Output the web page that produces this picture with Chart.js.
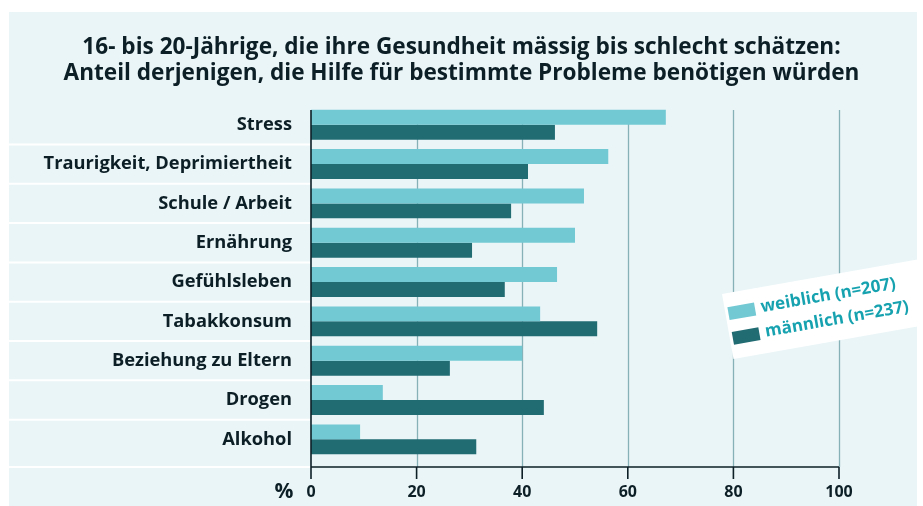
<!DOCTYPE html>
<html>
<head>
<meta charset="utf-8">
<script src="https://cdn.jsdelivr.net/npm/chart.js@4"></script>
<style>
  html, body { margin: 0; padding: 0; background: #ffffff; }
  #wrap { width: 923px; height: 506px; position: relative; }
</style>
</head>
<body>
<div id="wrap"><canvas id="chart" width="923" height="506"></canvas></div>
<script>
// --- data ---
const categories = [
    'Stress',
    'Traurigkeit, Deprimiertheit',
    'Schule / Arbeit',
    'Ernährung',
    'Gefühlsleben',
    'Tabakkonsum',
    'Beziehung zu Eltern',
    'Drogen',
    'Alkohol'
];
const weiblich = [67.2, 56.3, 51.7, 50.0, 46.6, 43.4, 40.0, 13.6, 9.3];
const maennlich = [46.2, 41.1, 37.9, 30.5, 36.7, 54.2, 26.3, 44.1, 31.3];
const seriesLabels = ['weiblich (n=207)', 'männlich (n=237)'];
const xTicks = [0, 20, 40, 60, 80, 100];
const titleLines = [
    '16- bis 20-Jährige, die ihre Gesundheit mässig bis schlecht schätzen:',
    'Anteil derjenigen, die Hilfe für bestimmte Probleme benötigen würden'
];

const colWeiblich = '#72c8d3';
const colMaennlich = '#216b73';
const panelBg = '#eaf5f7';
const gridCol = '#86b1b6';
const inkCol = '#0d1f26';
const legendText = '#17a2b0';
const FONT = '"Open Sans", Lato, sans-serif';

// background panel + white separators in the label column
const panelPlugin = {
    id: 'panel',
    beforeDraw(chart) {
        const { ctx, chartArea, scales } = chart;
        ctx.save();
        ctx.fillStyle = '#ffffff';
        ctx.fillRect(0, 0, chart.width, chart.height);
        ctx.fillStyle = panelBg;
        ctx.fillRect(9, 12, 908, chart.height - 12);
        const y = scales.y;
        ctx.strokeStyle = '#ffffff';
        ctx.lineWidth = 2;
        for (let i = 0; i < categories.length - 1; i++) {
            const yy = (y.getPixelForValue(i) + y.getPixelForValue(i + 1)) / 2;
            ctx.beginPath();
            ctx.moveTo(9, yy);
            ctx.lineTo(chartArea.left, yy);
            ctx.stroke();
        }
        ctx.beginPath();
        ctx.moveTo(9, chartArea.bottom + 8);
        ctx.lineTo(chartArea.left, chartArea.bottom + 8);
        ctx.stroke();
        ctx.restore();
    },
    beforeDatasetsDraw(chart) {
        const { ctx, chartArea, scales } = chart;
        ctx.save();
        ctx.strokeStyle = gridCol;
        ctx.lineWidth = 1.3;
        xTicks.forEach(v => {
            if (v === 0) return;
            const xx = Math.round(scales.x.getPixelForValue(v)) + 0.5;
            ctx.beginPath();
            ctx.moveTo(xx, chartArea.top + 5);
            ctx.lineTo(xx, chartArea.bottom + 8);
            ctx.stroke();
        });
        ctx.restore();
    },
    afterDatasetsDraw(chart) {
        const { ctx, chartArea, scales } = chart;
        const base = chartArea.bottom + 8;
        ctx.save();
        ctx.strokeStyle = inkCol;
        ctx.lineWidth = 1.6;
        ctx.beginPath();
        ctx.moveTo(scales.x.getPixelForValue(0), base);
        ctx.lineTo(scales.x.getPixelForValue(100), base);
        ctx.stroke();
        xTicks.forEach(v => {
            const xx = scales.x.getPixelForValue(v);
            ctx.beginPath();
            ctx.moveTo(xx, v === 0 ? chartArea.top + 5 : base);
            ctx.lineTo(xx, base + 12);
            ctx.stroke();
        });
        // unit
        ctx.fillStyle = inkCol;
        ctx.font = 'bold 21px ' + FONT;
        ctx.textAlign = 'center';
        ctx.textBaseline = 'middle';
        ctx.fillText('%', 284, 492);
        ctx.restore();
    },
    afterDraw(chart) {
        const { ctx } = chart;
        ctx.save();
        ctx.translate(722, 294);
        ctx.rotate(-10 * Math.PI / 180);
        ctx.fillStyle = '#ffffff';
        ctx.fillRect(0, 0, 260, 66);
        const cols = [colWeiblich, colMaennlich];
        ctx.font = 'bold 17px ' + FONT;
        ctx.textBaseline = 'middle';
        ctx.textAlign = 'left';
        seriesLabels.forEach((lab, i) => {
            const yy = 14 + i * 25;
            ctx.fillStyle = cols[i];
            ctx.fillRect(3, yy, 27, 13);
            ctx.fillStyle = legendText;
            ctx.fillText(lab, 36, yy + 6);
        });
        ctx.restore();
    }
};

new Chart(document.getElementById('chart'), {
    type: 'bar',
    data: {
        labels: categories,
        datasets: [
            { label: seriesLabels[0], data: weiblich, backgroundColor: colWeiblich },
            { label: seriesLabels[1], data: maennlich, backgroundColor: colMaennlich }
        ]
    },
    options: {
        indexAxis: 'y',
        responsive: false,
        animation: false,
        barPercentage: 1,
        categoryPercentage: 0.76,
        layout: { padding: 0 },
        plugins: {
            legend: { display: false },
            tooltip: { enabled: false },
            title: {
                display: true,
                text: titleLines,
                color: inkCol,
                font: { family: FONT, size: 22.6, weight: 'bold', lineHeight: 1.13 },
                padding: { top: 35, bottom: 19 }
            }
        },
        scales: {
            x: {
                min: 0,
                max: 100,
                afterBuildTicks: s => { s.ticks = xTicks.map(v => ({ value: v })); },
                grid: { display: false },
                border: { display: false },
                ticks: {
                    color: inkCol,
                    padding: 16,
                    font: { family: FONT, size: 16, weight: 'bold' }
                },
                afterFit: s => { s.height = 47; s.paddingRight = 84; }
            },
            y: {
                grid: { display: false },
                border: { display: false },
                ticks: {
                    color: inkCol,
                    padding: 11,
                    font: { family: FONT, size: 18.3, weight: 'bold' }
                },
                afterFit: s => { s.width = 311; }
            }
        }
    },
    plugins: [panelPlugin]
});
</script>
</body>
</html>
